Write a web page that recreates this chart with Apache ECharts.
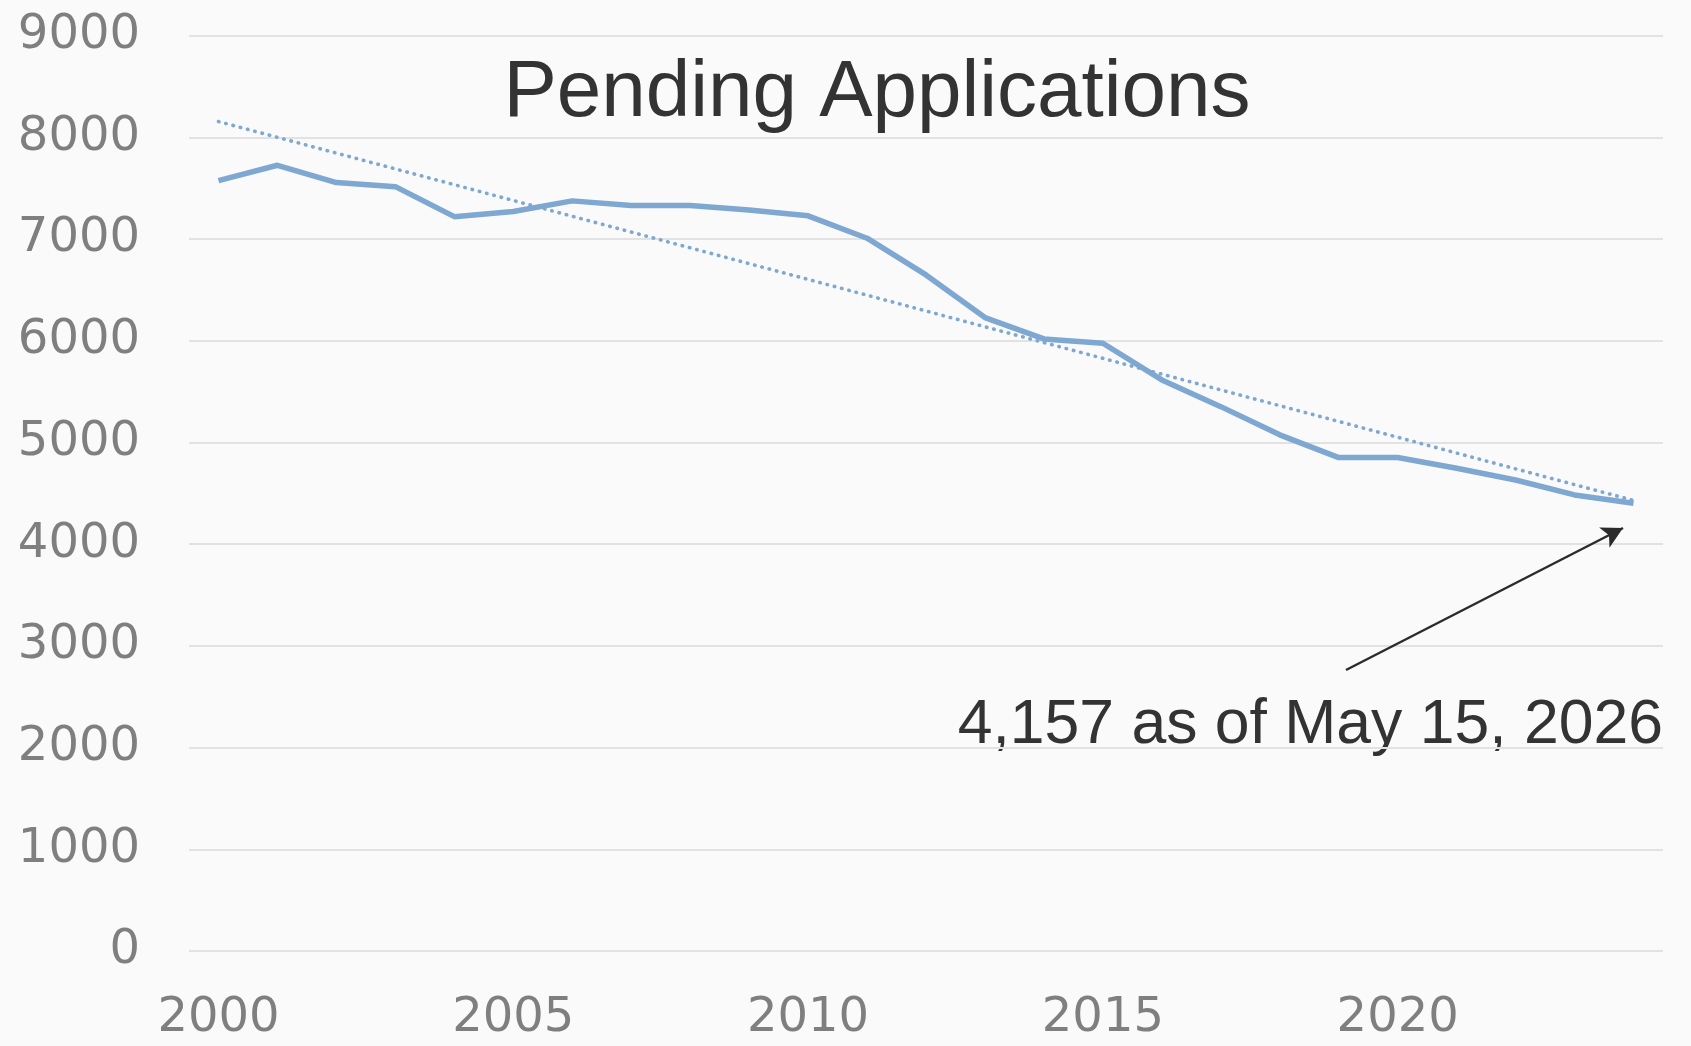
<!DOCTYPE html>
<html>

<head>
    <meta charset="UTF-8">
    <style type="text/css">
        body {
            margin: 0;
            padding: 0;
            overflow: hidden;
            background: #fafafa;
        }

        #chart {
            height: 100%;
            width: 100%;
            position: absolute
        }
    </style>
</head>

<body>
    <div id="chart"></div>
    <script src="https://cdn.jsdelivr.net/npm/echarts@6/dist/echarts.min.js"></script>
    <script>
        let YEARS = ['2000', '2001', '2002', '2003', '2004', '2005', '2006', '2007', '2008', '2009', '2010', '2011',
            '2012', '2013', '2014', '2015', '2016', '2017', '2018', '2019', '2020', '2021', '2022', '2023', '2024'];
        let PENDING = [7575, 7725, 7555, 7515, 7220, 7270, 7375, 7330, 7330, 7285, 7228, 7008,
            6647, 6228, 6018, 5975, 5615, 5352, 5075, 4851, 4852, 4746, 4631, 4484, 4402];
        // dotted trend line, read at both ends
        let TREND_START = ['2000', 8155];
        let TREND_END = ['2024', 4430];
        let TITLE = 'Pending Applications';
        let NOTE = '4,157 as of May 15, 2026';

        let LINE_COLOR = '#7ea7d1';
        let TICK_COLOR = '#7f7f7f';
        let TEXT_COLOR = '#333333';

        var myChart = echarts.init(document.getElementById('chart'));

        let option = {
            backgroundColor: '#fafafa',
            animation: false,
            grid: {
                left: 189,
                right: 28,
                top: 35.6,
                bottom: 95
            },
            xAxis: {
                type: 'category',
                data: YEARS,
                boundaryGap: true,
                axisLine: { show: false },
                axisTick: { show: false },
                axisLabel: {
                    interval: 4,
                    margin: 44,
                    color: TICK_COLOR,
                    fontFamily: 'DejaVu Sans',
                    fontSize: 48
                }
            },
            yAxis: {
                type: 'value',
                min: 0,
                max: 9000,
                interval: 1000,
                axisLine: { show: false },
                axisTick: { show: false },
                axisLabel: {
                    margin: 49,
                    color: TICK_COLOR,
                    fontFamily: 'DejaVu Sans',
                    fontSize: 48,
                    formatter: function (v) {
                        return String(v);
                    }
                },
                splitLine: {
                    lineStyle: { color: '#e2e2e2', width: 2 }
                }
            },
            graphic: [
                {
                    type: 'text',
                    x: 877,
                    y: 94,
                    style: {
                        text: TITLE,
                        fill: TEXT_COLOR,
                        font: '80px "Liberation Sans"',
                        textAlign: 'center',
                        textVerticalAlign: 'middle'
                    }
                },
                {
                    type: 'text',
                    x: 1663,
                    y: 726,
                    style: {
                        text: NOTE,
                        fill: TEXT_COLOR,
                        font: '62.5px "Liberation Sans"',
                        textAlign: 'right',
                        textVerticalAlign: 'middle'
                    }
                }
            ],
            series: [
                {
                    type: 'line',
                    data: PENDING,
                    showSymbol: false,
                    symbol: 'none',
                    lineStyle: { color: LINE_COLOR, width: 5.5 },
                    markLine: {
                        silent: true,
                        symbol: 'none',
                        label: { show: false },
                        data: [
                            [
                                { coord: TREND_START, lineStyle: { color: LINE_COLOR, width: 3.6, type: [0.5, 7], cap: 'round' } },
                                { coord: TREND_END }
                            ],
                            [
                                { x: 1346, y: 670, symbol: 'none', lineStyle: { color: '#2b2b2b', width: 2.4, type: 'solid' } },
                                { x: 1623, y: 528, symbol: 'arrow', symbolSize: [17, 21] }
                            ]
                        ]
                    }
                }
            ]
        };
        myChart.setOption(option);
        window.onresize = myChart.resize;
    </script>
</body>

</html>
